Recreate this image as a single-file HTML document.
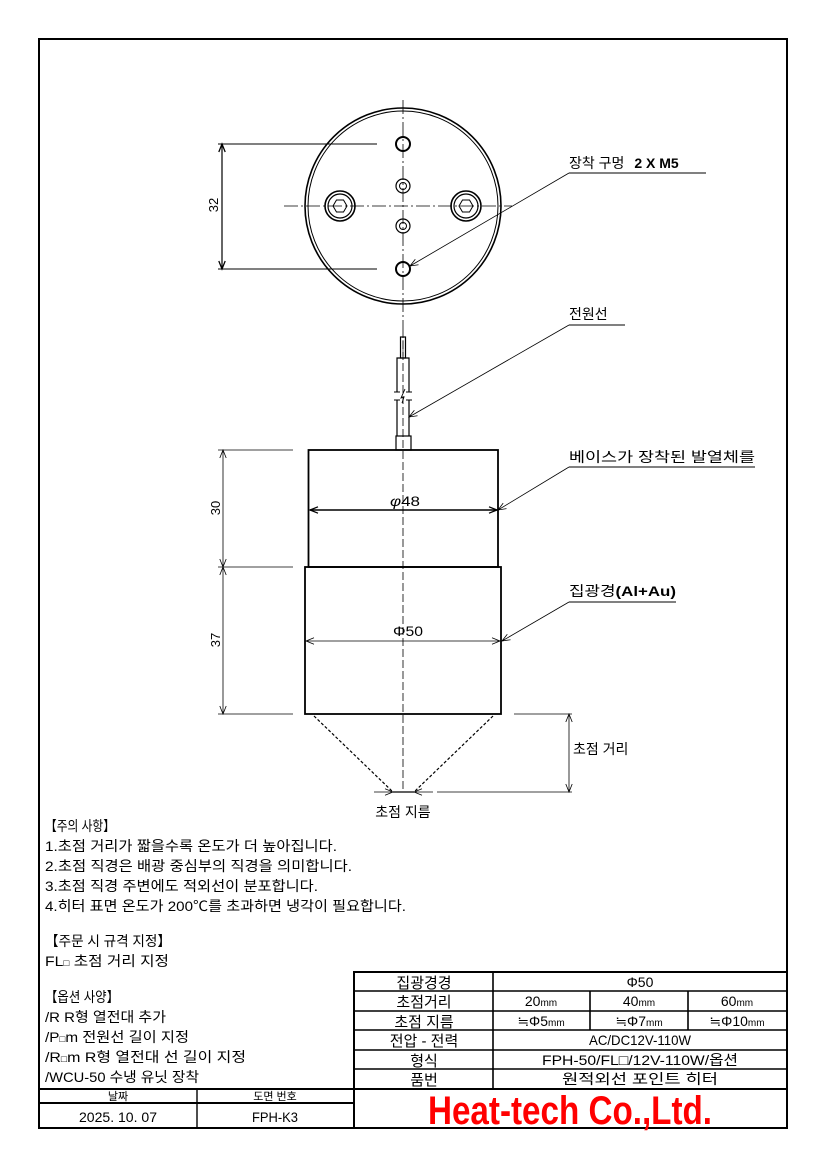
<!DOCTYPE html>
<html><head><meta charset="utf-8"><style>
html,body{margin:0;padding:0;background:#fff}
svg{display:block}
text{font-family:"Liberation Sans","Noto Sans CJK KR",sans-serif;fill:#000}
</style></head><body>
<svg width="826" height="1169" viewBox="0 0 826 1169" xmlns="http://www.w3.org/2000/svg">
<defs>
<marker id="a" viewBox="0 0 10 10" refX="10" refY="5" markerWidth="10" markerHeight="8" orient="auto-start-reverse" markerUnits="userSpaceOnUse"><path d="M0,1 L10,5 L0,9" fill="none" stroke="#000" stroke-width="1"/></marker>
<marker id="b" viewBox="0 0 10 10" refX="10" refY="5" markerWidth="12" markerHeight="8" orient="auto-start-reverse" markerUnits="userSpaceOnUse"><path d="M0,1 L10,5 L0,9" fill="none" stroke="#000" stroke-width="1.6"/></marker>
</defs>
<rect x="39" y="39" width="748" height="1089" fill="none" stroke="#000" stroke-width="2"/>

<line x1="403" y1="100" x2="403" y2="330" stroke="#000" stroke-width="0.8" stroke-dasharray="14,3,2,3"/>
<line x1="403" y1="330" x2="403" y2="790" stroke="#000" stroke-width="0.8" stroke-dasharray="8,3"/>
<line x1="284" y1="206" x2="512" y2="206" stroke="#000" stroke-width="0.8" stroke-dasharray="14,3,2,3"/>

<circle cx="403" cy="206" r="98" fill="none" stroke="#000" stroke-width="1.6"/>
<circle cx="403" cy="206" r="95" fill="none" stroke="#000" stroke-width="1"/>
<circle cx="403" cy="144" r="7" fill="none" stroke="#000" stroke-width="2"/>
<circle cx="403" cy="269" r="7" fill="none" stroke="#000" stroke-width="2"/>
<circle cx="403" cy="186" r="7" fill="none" stroke="#000" stroke-width="1.2"/>
<circle cx="403" cy="186" r="3.5" fill="none" stroke="#000" stroke-width="1"/>
<circle cx="403" cy="226" r="7" fill="none" stroke="#000" stroke-width="1.2"/>
<circle cx="403" cy="226" r="3.5" fill="none" stroke="#000" stroke-width="1"/>
<circle cx="340" cy="206" r="15" fill="none" stroke="#000" stroke-width="1.6"/>
<circle cx="340" cy="206" r="12" fill="none" stroke="#000" stroke-width="1.2"/>
<polygon points="333,206 336.5,200 343.5,200 347,206 343.5,212 336.5,212" fill="none" stroke="#000" stroke-width="1"/>
<circle cx="466" cy="206" r="15" fill="none" stroke="#000" stroke-width="1.6"/>
<circle cx="466" cy="206" r="12" fill="none" stroke="#000" stroke-width="1.2"/>
<polygon points="459,206 462.5,200 469.5,200 473,206 469.5,212 462.5,212" fill="none" stroke="#000" stroke-width="1"/>

<line x1="218" y1="144" x2="377" y2="144" stroke="#000" stroke-width="1"/>
<line x1="218" y1="269" x2="377" y2="269" stroke="#000" stroke-width="1"/>
<line x1="222" y1="144" x2="222" y2="269" stroke="#000" stroke-width="1.2" marker-start="url(#b)" marker-end="url(#b)"/>
<text x="0" y="0" font-size="13" text-anchor="middle" transform="translate(218,205) rotate(-90)">32</text>

<line x1="569" y1="173" x2="410" y2="266" stroke="#000" stroke-width="0.8" marker-end="url(#a)"/>
<line x1="569" y1="173" x2="706" y2="173" stroke="#000" stroke-width="1"/>
<text x="569" y="168" font-size="14">장착 구멍 <tspan font-weight="bold" dx="6">2 X M5</tspan></text>

<rect x="400.5" y="337" width="5" height="21" fill="none" stroke="#000" stroke-width="1.2"/>
<line x1="403" y1="340" x2="403" y2="356" stroke="#000" stroke-width="0.6"/>
<path d="M397,392 V358 H409 V392 M397,400 V436 M409,400 V436" fill="none" stroke="#000" stroke-width="1.2"/>
<path d="M394,392 H400 M406,392 H412 M394,400 H400 M406,400 H412 M405,389 L401,398 L404,397 L402,403" fill="none" stroke="#000" stroke-width="0.9"/>
<rect x="396" y="436" width="15" height="14" fill="none" stroke="#000" stroke-width="1.2"/>
<line x1="569" y1="325" x2="409" y2="417" stroke="#000" stroke-width="0.8" marker-end="url(#a)"/>
<line x1="569" y1="325" x2="625" y2="325" stroke="#000" stroke-width="1"/>
<text x="569" y="319" font-size="14">전원선</text>

<rect x="308.5" y="450" width="189.5" height="117" fill="none" stroke="#000" stroke-width="1.8"/>
<line x1="310" y1="510" x2="497" y2="510" stroke="#000" stroke-width="1.6" marker-start="url(#b)" marker-end="url(#b)"/>
<text x="405" y="506" font-size="14" text-anchor="middle" textLength="30" lengthAdjust="spacingAndGlyphs"><tspan font-style="italic">φ</tspan>48</text>
<line x1="569" y1="467" x2="498" y2="510" stroke="#000" stroke-width="0.8" marker-end="url(#a)"/>
<line x1="569" y1="467" x2="755" y2="467" stroke="#000" stroke-width="1"/>
<text x="569" y="462" font-size="14" textLength="186" lengthAdjust="spacingAndGlyphs">베이스가 장착된 발열체를</text>

<rect x="305" y="567" width="196" height="147" fill="none" stroke="#000" stroke-width="1.8"/>
<line x1="306" y1="641" x2="500" y2="641" stroke="#000" stroke-width="0.8" marker-start="url(#a)" marker-end="url(#a)"/>
<text x="408" y="636" font-size="14" text-anchor="middle" textLength="30" lengthAdjust="spacingAndGlyphs">Φ50</text>
<line x1="569" y1="602" x2="502" y2="641" stroke="#000" stroke-width="0.8" marker-end="url(#a)"/>
<line x1="569" y1="602" x2="676" y2="602" stroke="#000" stroke-width="1"/>
<text x="569" y="596" font-size="14" textLength="107" lengthAdjust="spacingAndGlyphs">집광경<tspan font-weight="bold">(Al+Au)</tspan></text>

<line x1="218" y1="450" x2="293" y2="450" stroke="#000" stroke-width="0.8"/>
<line x1="218" y1="567" x2="293" y2="567" stroke="#000" stroke-width="0.8"/>
<line x1="218" y1="714" x2="293" y2="714" stroke="#000" stroke-width="0.8"/>
<line x1="223" y1="450" x2="223" y2="567" stroke="#000" stroke-width="0.8" marker-start="url(#a)" marker-end="url(#a)"/>
<line x1="223" y1="567" x2="223" y2="714" stroke="#000" stroke-width="0.8" marker-start="url(#a)" marker-end="url(#a)"/>
<text font-size="13" text-anchor="middle" transform="translate(220,508) rotate(-90)">30</text>
<text font-size="13" text-anchor="middle" transform="translate(220,640) rotate(-90)">37</text>

<line x1="314" y1="716" x2="393" y2="792" stroke="#000" stroke-width="1.2" stroke-dasharray="3,2"/>
<line x1="493" y1="716" x2="414" y2="792" stroke="#000" stroke-width="1.2" stroke-dasharray="3,2"/>
<line x1="393" y1="792" x2="414" y2="792" stroke="#000" stroke-width="1.2"/>
<line x1="374" y1="792" x2="393" y2="792" stroke="#000" stroke-width="0.8" marker-end="url(#a)"/>
<line x1="433" y1="792" x2="414" y2="792" stroke="#000" stroke-width="0.8" marker-end="url(#a)"/>
<text x="403" y="817" font-size="14" text-anchor="middle">초점 지름</text>

<line x1="514" y1="714" x2="572" y2="714" stroke="#000" stroke-width="0.8"/>
<line x1="437" y1="792" x2="572" y2="792" stroke="#000" stroke-width="0.8"/>
<line x1="569" y1="714" x2="569" y2="792" stroke="#000" stroke-width="0.8" marker-start="url(#a)" marker-end="url(#a)"/>
<text x="573" y="754" font-size="14">초점 거리</text>

<g font-size="14">
<text x="45" y="831" textLength="70" lengthAdjust="spacingAndGlyphs">【주의 사항】</text>
<text x="45" y="851" textLength="292" lengthAdjust="spacingAndGlyphs">1.초점 거리가 짧을수록 온도가 더 높아집니다.</text>
<text x="45" y="871" textLength="307" lengthAdjust="spacingAndGlyphs">2.초점 직경은 배광 중심부의 직경을 의미합니다.</text>
<text x="45" y="891" textLength="273" lengthAdjust="spacingAndGlyphs">3.초점 직경 주변에도 적외선이 분포합니다.</text>
<text x="45" y="911" textLength="361" lengthAdjust="spacingAndGlyphs">4.히터 표면 온도가 200℃를 초과하면 냉각이 필요합니다.</text>
<text x="45" y="946" textLength="126" lengthAdjust="spacingAndGlyphs">【주문 시 규격 지정】</text>
<text x="45" y="966" textLength="124" lengthAdjust="spacingAndGlyphs">FL<tspan font-size="9">□</tspan> 초점 거리 지정</text>
<text x="45" y="1002" textLength="74" lengthAdjust="spacingAndGlyphs">【옵션 사양】</text>
<text x="45" y="1022" textLength="121" lengthAdjust="spacingAndGlyphs">/R R형 열전대 추가</text>
<text x="45" y="1042" textLength="144" lengthAdjust="spacingAndGlyphs">/P<tspan font-size="9">□</tspan>m 전원선 길이 지정</text>
<text x="45" y="1062" textLength="201" lengthAdjust="spacingAndGlyphs">/R<tspan font-size="9">□</tspan>m R형 열전대 선 길이 지정</text>
<text x="45" y="1082" textLength="154" lengthAdjust="spacingAndGlyphs">/WCU-50 수냉 유닛 장착</text>
</g>

<g stroke="#000" fill="none">
<rect x="354" y="972" width="433" height="156" stroke-width="2"/>
<line x1="354" y1="991" x2="787" y2="991" stroke-width="1.6"/>
<line x1="354" y1="1011" x2="787" y2="1011" stroke-width="1.6"/>
<line x1="354" y1="1030" x2="787" y2="1030" stroke-width="1.6"/>
<line x1="354" y1="1050" x2="787" y2="1050" stroke-width="1.6"/>
<line x1="354" y1="1069" x2="787" y2="1069" stroke-width="1.6"/>
<line x1="354" y1="1089" x2="787" y2="1089" stroke-width="2"/>
<line x1="493" y1="972" x2="493" y2="1089" stroke-width="1.6"/>
<line x1="590" y1="991" x2="590" y2="1030" stroke-width="1.6"/>
<line x1="688" y1="991" x2="688" y2="1030" stroke-width="1.6"/>
<line x1="39" y1="1089" x2="354" y2="1089" stroke-width="2"/>
<line x1="39" y1="1103" x2="354" y2="1103" stroke-width="2"/>
<line x1="197" y1="1089" x2="197" y2="1128" stroke-width="1.4"/>
</g>
<g font-size="15" text-anchor="middle">
<text x="424" y="988">집광경경</text>
<text x="424" y="1007">초점거리</text>
<text x="424" y="1027">초점 지름</text>
<text x="424" y="1046">전압 - 전력</text>
<text x="424" y="1066">형식</text>
<text x="424" y="1085">품번</text>
</g>
<g font-size="14" text-anchor="middle">
<text x="640" y="987">Φ50</text>
<text x="541" y="1006">20<tspan font-size="10">mm</tspan></text>
<text x="639" y="1006">40<tspan font-size="10">mm</tspan></text>
<text x="737" y="1006">60<tspan font-size="10">mm</tspan></text>
<text x="541" y="1026">≒Φ5<tspan font-size="10">mm</tspan></text>
<text x="639" y="1026">≒Φ7<tspan font-size="10">mm</tspan></text>
<text x="737" y="1026">≒Φ10<tspan font-size="10">mm</tspan></text>
<text x="640" y="1045" textLength="102" lengthAdjust="spacingAndGlyphs">AC/DC12V-110W</text>
<text x="640" y="1065" textLength="196" lengthAdjust="spacingAndGlyphs">FPH-50/FL□/12V-110W/옵션</text>
<text x="640" y="1084" textLength="156" lengthAdjust="spacingAndGlyphs">원적외선 포인트 히터</text>
</g>
<g font-size="11" text-anchor="middle">
<text x="118" y="1100">날짜</text>
<text x="275" y="1100">도면 번호</text>
</g>
<g font-size="14" text-anchor="middle">
<text x="118" y="1122" textLength="78" lengthAdjust="spacingAndGlyphs">2025. 10. 07</text>
<text x="275" y="1122" textLength="46" lengthAdjust="spacingAndGlyphs">FPH-K3</text>
</g>
<text x="428" y="1124" font-size="40" font-weight="bold" textLength="284" lengthAdjust="spacingAndGlyphs" style="fill:#ff0000">Heat-tech Co.,Ltd.</text>
</svg>
</body></html>
